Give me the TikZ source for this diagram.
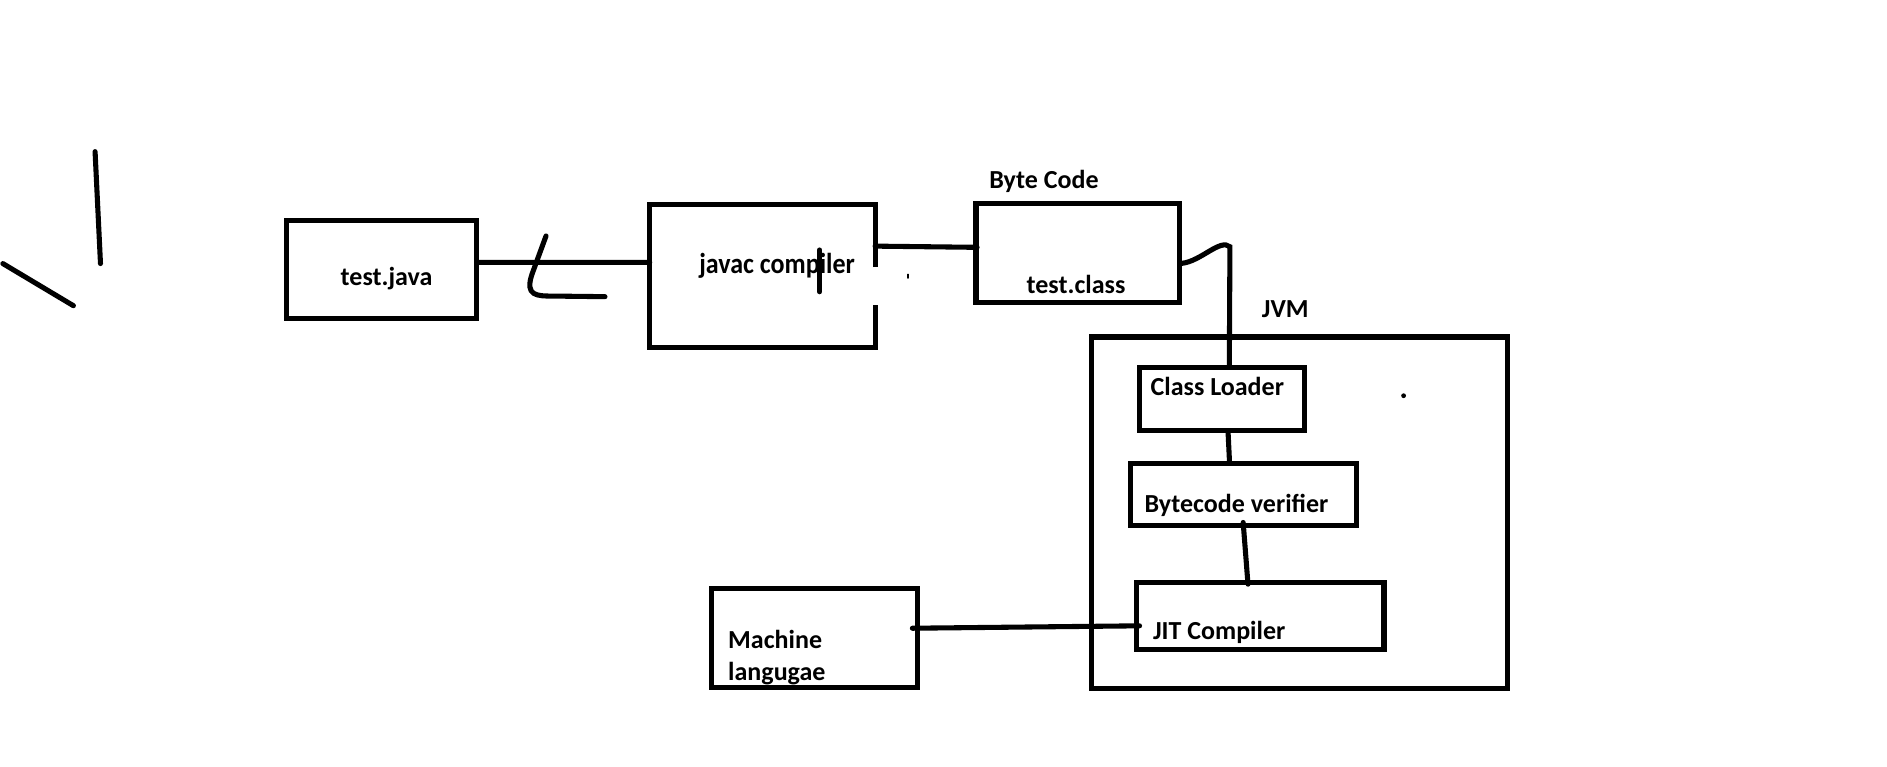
\documentclass[tikz,border=0pt]{standalone}
\usepackage{fontspec}
\setmainfont{Carlito}
\usetikzlibrary{positioning}
\tikzset{box/.style={draw,line width=1.2pt,inner sep=0pt}}
\tikzset{lbl/.style={anchor=base west,inner sep=0pt,font=\fontsize{6.15pt}{7.4pt}\selectfont\bfseries}}
\begin{document}
\begin{tikzpicture}[line width=1.2pt,line cap=round]
\useasboundingbox (0,0) rectangle (15.68,-6.365);
    %boxes
    \node[box,minimum width=1.58cm,minimum height=0.82cm] (java) at (3.17,-2.24) {};
    \node[box,draw=none,minimum width=1.83cm,minimum height=1.15cm] (javac) at (6.335,-2.295) {};
    \node[box,minimum width=1.69cm,minimum height=0.82cm] (tclass) at (8.955,-2.10) {};
    \node[box,minimum width=3.46cm,minimum height=2.92cm] (jvm) at (10.80,-4.26) {};
    \node[box,minimum width=1.37cm,minimum height=0.53cm] (loader) at (10.155,-3.315) {};
    \node[box,minimum width=1.88cm,minimum height=0.52cm] (verifier) at (10.33,-4.11) {};
    \node[box,minimum width=2.06cm,minimum height=0.56cm] (jit) at (10.47,-5.12) {};
    \node[box,minimum width=1.71cm,minimum height=0.82cm] (machine) at (6.765,-5.30) {};
    %javac box, open on the right
    \draw[line cap=butt] ([yshift=0.075cm]javac.east) -- (javac.north east) -- (javac.north west)
        -- (javac.south west) -- (javac.south east) -- ++(0,0.36);
    %labels
    \foreach \x/\y/\t in {2.81/-2.37/test.java, 8.20/-1.57/Byte Code, 8.51/-2.437/test.class,
        10.465/-2.64/JVM, 9.54/-3.29/Class Loader, 9.49/-4.26/Bytecode verifier,
        9.56/-5.31/JIT Compiler, 6.03/-5.39/Machine, 6.03/-5.655/langugae}
    {\node[lbl] at (\x,\y) {\t};}
    \node[lbl,font=\fontsize{6.83pt}{8pt}\selectfont\bfseries] (jlabel) at (5.79,-2.27) {\scalebox{0.9}[1]{javac compiler}};
    %connectors
    \draw ([yshift=0.06cm]java.east) -- ([yshift=0.115cm]javac.west);
    \draw ([yshift=0.25cm]javac.east) -- ([xshift=0.03cm,yshift=0.045cm]tclass.west);
    \coordinate (bend) at (10.22,-2.05);
    \draw ([yshift=-0.088cm]tclass.east) .. controls (9.98,-2.17) and (10.14,-1.98) .. (bend)
        -- ([xshift=0.06cm]loader.north);
    \draw ([xshift=0.05cm]loader.south) -- ([xshift=-0.114cm]verifier.north);
    \draw ([yshift=0.05cm]verifier.south) -- ([xshift=-0.10cm,yshift=-0.035cm]jit.north);
    \draw ([xshift=-0.06cm,yshift=0.08cm]machine.east) -- ([xshift=0.05cm,yshift=-0.08cm]jit.west);
    %loose strokes
    \draw (4.537,-1.961) -- (4.42,-2.28) .. controls (4.36,-2.46) and (4.46,-2.46) .. (4.60,-2.46) -- (5.027,-2.465);
    \draw (6.81,-2.077) -- (6.81,-2.424);
    \draw (0.79,-1.26) -- (0.835,-2.19);
    \draw (0.024,-2.19) -- (0.61,-2.54);
    \draw[line width=0.4pt] (7.547,-2.28) -- (7.547,-2.31);
    \fill (11.663,-3.288) circle (0.02);
\end{tikzpicture}
\end{document}
